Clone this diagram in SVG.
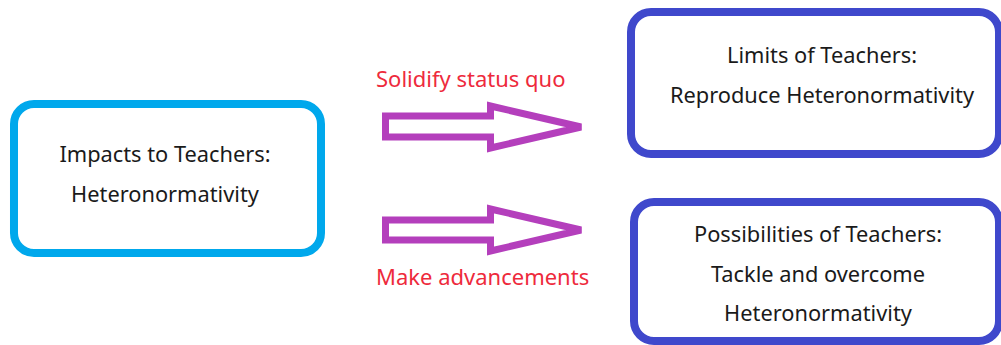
<svg xmlns="http://www.w3.org/2000/svg" width="1001" height="345" viewBox="0 0 1001 345">
  <style>
    .box { fill: #ffffff; stroke-width: 8; }
    .src { stroke: #00A8EC; }
    .dst { stroke: #3F48CC; }
    .lbl { font-family: "Noto Sans", "Open Sans", sans-serif; font-size: 21.8px; fill: #1a1a1a; text-anchor: middle; }
    .edge { fill: #ffffff; stroke: #B43FBC; stroke-width: 7; stroke-linejoin: miter; }
    .cap { font-family: "Noto Sans", "Open Sans", sans-serif; font-size: 22px; fill: #EE2A3C; }
  </style>

  <g id="node-impacts">
    <rect class="box src" x="14" y="104" width="307" height="149" rx="20"/>
    <text class="lbl" x="165" y="162">Impacts to Teachers:</text>
    <text class="lbl" x="165" y="202">Heteronormativity</text>
  </g>

  <g id="node-limits">
    <rect class="box dst" x="631" y="12" width="368" height="142" rx="20"/>
    <text class="lbl" x="822" y="63">Limits of Teachers:</text>
    <text class="lbl" x="822" y="103">Reproduce Heteronormativity</text>
  </g>

  <g id="node-possibilities">
    <rect class="box dst" x="634" y="202" width="365" height="139" rx="20"/>
    <text class="lbl" x="818" y="242">Possibilities of Teachers:</text>
    <text class="lbl" x="818" y="282">Tackle and overcome</text>
    <text class="lbl" x="818" y="321">Heteronormativity</text>
  </g>

  <g id="connectors">
    <polygon class="edge" points="385.5,116 490.5,116 490.5,106 581,127 490.5,148 490.5,137 385.5,137"/>
    <text class="cap" x="376" y="87">Solidify status quo</text>
    <polygon class="edge" points="385.5,220 490.5,220 490.5,209 581,230 490.5,251 490.5,240 385.5,240"/>
    <text class="cap" x="376" y="285">Make advancements</text>
  </g>
</svg>
